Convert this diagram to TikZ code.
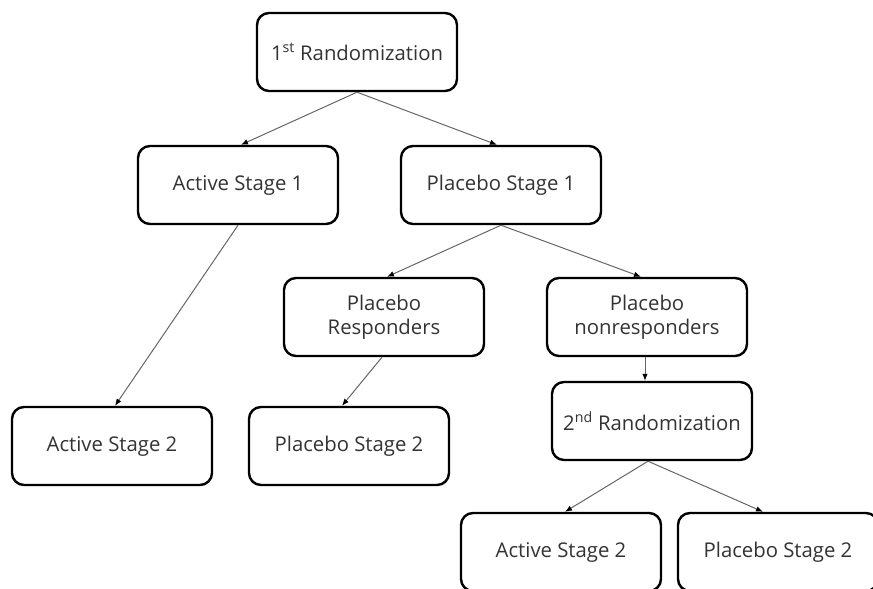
\documentclass[tikz,border=0pt]{standalone}
\usepackage{fontspec}
\setmainfont{Open Sans}
\usetikzlibrary{arrows.meta}
\begin{document}
\begin{tikzpicture}[x=1pt,y=-1pt,
  box/.style={draw=black, line width=2.4pt, rounded corners=12pt,
    minimum width=200pt, minimum height=78pt, align=center,
    font=\fontsize{20.3}{24}\selectfont, text=black!80, fill=white},
  link/.style={draw=black!60, line width=1pt,
    -{Latex[length=7pt,width=5.5pt,black]}}]
\useasboundingbox (0,0) rectangle (873,589);

% randomization tree
\node[box] (r1)   at (357,52)  {1\textsuperscript{st} Randomization};
\node[box] (as1)  at (238,185) {Active Stage 1};
\node[box] (ps1)  at (501,185) {Placebo Stage 1};
\node[box] (pr)   at (384,317) {Placebo\\Responders};
\node[box] (pn)   at (647,317) {Placebo\\nonresponders};
\node[box] (r2)   at (652,421) {2\textsuperscript{nd} Randomization};
\node[box] (as2a) at (112,446) {Active Stage 2};
\node[box] (ps2a) at (349,446) {Placebo Stage 2};
\node[box] (as2b) at (561,552) {Active Stage 2};
\node[box] (ps2b) at (778,552) {Placebo Stage 2};

% connectors
\draw[link] (r1.south) -- ([xshift=3pt]as1.north);
\draw[link] (r1.south) -- ([xshift=-4pt]ps1.north);
\draw[link] (as1.south) -- ([xshift=3pt]as2a.north);
\draw[link] (ps1.south) -- ([xshift=3pt]pr.north);
\draw[link] (ps1.south) -- ([xshift=-6pt]pn.north);
\draw[link] ([xshift=-2pt]pr.south) -- ([xshift=-7pt]ps2a.north);
\draw[link] ([xshift=-2pt]pn.south) -- ([xshift=-2pt]pn.south |- r2.north);
\draw[link] ([xshift=-4pt]r2.south) -- ([xshift=4pt]as2b.north);
\draw[link] ([xshift=-4pt]r2.south) -- ([xshift=-15pt]ps2b.north);
\end{tikzpicture}
\end{document}
